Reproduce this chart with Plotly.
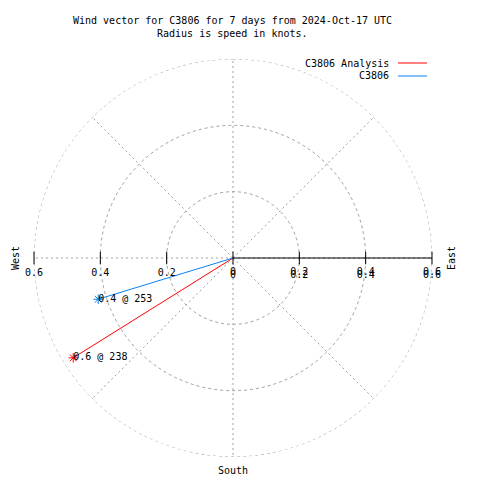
import plotly.graph_objects as go

# ---- data ----
station = "C3806"
start_date = "2024-Oct-17"
series_names = ["C3806 Analysis", "C3806"]
speeds = [0.568, 0.425]          # knots
directions = [238, 253]          # degrees
series_colors = ["#ff0000", "#0a80f0"]
radial_ticks = [0.2, 0.4, 0.6]
tick_labels = ["0.2", "0.4", "0.6"]

W = H = 480
OFF = 8   # page body margin
FONT = "DejaVu Sans Mono"
FS = 10
GRID = "#a0a0a0"
RMAX = radial_ticks[-1]


def px(x):
    return (x - OFF) / W


def py(y):
    return 1 - (y - OFF) / H


fig = go.Figure()

# outer grid circle (plotly skips the gridline at the range edge)
fig.add_trace(go.Scatterpolar(
    r=[RMAX] * 361, theta=list(range(361)), mode="lines",
    line=dict(color=GRID, width=1, dash="3px,3px"),
    showlegend=False, hoverinfo="skip"))

# wind vectors
for name, s, d, c in zip(series_names, speeds, directions, series_colors):
    fig.add_trace(go.Scatterpolar(
        r=[0, s], theta=[d, d], mode="lines",
        line=dict(color=c, width=1), name=name,
        showlegend=False, hoverinfo="skip"))
    fig.add_trace(go.Scatterpolar(
        r=[s], theta=[d], mode="markers",
        marker=dict(symbol="asterisk-open", size=8, color=c,
                    line=dict(color=c, width=1)),
        showlegend=False, hoverinfo="skip"))
    fig.add_trace(go.Scatterpolar(
        r=[s], theta=[d], mode="text",
        text=[f"{s:.1f} @ {d}"], textposition="middle right",
        textfont=dict(family=FONT, size=FS, color="black"),
        showlegend=False, hoverinfo="skip"))

# tick marks along east-west axis
tick_r = [0] + radial_ticks + radial_ticks
tick_t = [90] * (len(radial_ticks) + 1) + [270] * len(radial_ticks)
fig.add_trace(go.Scatterpolar(
    r=tick_r, theta=tick_t, mode="markers",
    marker=dict(symbol="line-ns-open", size=9, color="black",
                line=dict(color="black", width=1)),
    showlegend=False, hoverinfo="skip"))

# tick labels (west side)
fig.add_trace(go.Scatterpolar(
    r=radial_ticks, theta=[270] * len(radial_ticks), mode="markers+text",
    marker=dict(size=15, opacity=0), text=tick_labels,
    textposition="bottom center",
    textfont=dict(family=FONT, size=FS, color="black"),
    showlegend=False, hoverinfo="skip"))
# tick labels (east side, drawn twice as in the original)
for msize in (14, 18):
    fig.add_trace(go.Scatterpolar(
        r=[0] + radial_ticks, theta=[90] * (len(radial_ticks) + 1),
        mode="markers+text",
        marker=dict(size=msize, opacity=0), text=["0"] + tick_labels,
        textposition="bottom center",
        textfont=dict(family=FONT, size=FS, color="black"),
        showlegend=False, hoverinfo="skip"))

txt = dict(family=FONT, size=FS, color="black")
annotations = [
    dict(x=px(232), y=py(20), xref="paper", yref="paper",
         text=f"Wind vector for {station} for 7 days from {start_date} UTC",
         showarrow=False, font=txt, xanchor="center", yanchor="middle"),
    dict(x=px(232), y=py(33), xref="paper", yref="paper",
         text="Radius is speed in knots.",
         showarrow=False, font=txt, xanchor="center", yanchor="middle"),
    dict(x=px(15), y=py(258), xref="paper", yref="paper", text="West",
         textangle=-90, showarrow=False, font=txt,
         xanchor="center", yanchor="middle"),
    dict(x=px(451), y=py(258), xref="paper", yref="paper", text="East",
         textangle=-90, showarrow=False, font=txt,
         xanchor="center", yanchor="middle"),
    dict(x=px(233), y=py(470), xref="paper", yref="paper", text="South",
         showarrow=False, font=txt, xanchor="center", yanchor="middle"),
]
shapes = []
for i, (name, c) in enumerate(zip(series_names, series_colors)):
    y = 63 + 13 * i
    annotations.append(dict(x=px(391), y=py(y), xref="paper", yref="paper",
                            text=name, showarrow=False, xanchor="right",
                            yanchor="middle", font=txt))
    shapes.append(dict(type="line", xref="paper", yref="paper",
                       x0=px(398), x1=px(427), y0=py(y), y1=py(y),
                       line=dict(color=c, width=1)))

R_PX = 199
CX, CY = 233, 258
fig.update_layout(
    width=W, height=H,
    margin=dict(l=0, r=0, t=0, b=0),
    paper_bgcolor="white",
    showlegend=False,
    annotations=annotations,
    shapes=shapes,
    polar=dict(
        domain=dict(x=[px(CX - R_PX), px(CX + R_PX)],
                    y=[py(CY + R_PX), py(CY - R_PX)]),
        bgcolor="white",
        radialaxis=dict(range=[0, RMAX], tickvals=radial_ticks,
                        showticklabels=False, ticks="", angle=0,
                        showline=True, linecolor="black", linewidth=1,
                        gridcolor=GRID, griddash="3px,3px", gridwidth=1),
        angularaxis=dict(rotation=90, direction="clockwise", dtick=45,
                         showticklabels=False, ticks="", showline=False,
                         gridcolor=GRID, griddash="2px,3px", gridwidth=1),
    ),
)

fig.write_html("out.html")
